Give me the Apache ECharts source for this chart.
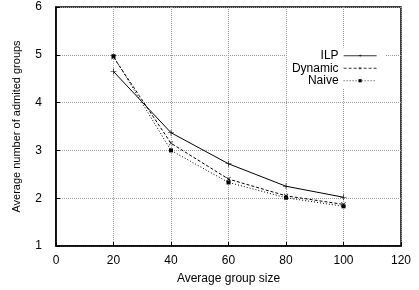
<!DOCTYPE html>
<html>
<head>
<meta charset="utf-8">
<script src="https://cdn.jsdelivr.net/npm/echarts@6/dist/echarts.min.js"></script>
<style>
  html, body { margin: 0; padding: 0; background: #fff; }
  #chart { width: 419px; height: 290px; }
</style>
</head>
<body>
<div id="chart"></div>
<script>
// group sizes on the x axis
const groupSizes = [20, 40, 60, 80, 100]
const ilp = [4.65, 3.37, 2.72, 2.25, 2.02]
const dynamic = [4.95, 3.15, 2.4, 2.05, 1.87]
const naive = [4.97, 3.0, 2.33, 2.01, 1.83]

const FONT = '"Liberation Sans", Arial, sans-serif'
const plusPath = 'path://M0,4.5H10V5.5H0Z M4.5,0H5.5V10H4.5Z'

function pairs(vals) {
  return groupSizes.map((x, i) => [x, vals[i]])
}

const chart = echarts.init(document.getElementById('chart'))

const gridLine = { show: true, lineStyle: { color: '#999', type: [1, 1], width: 1 } }
const tick = { show: true, inside: true, length: 4, lineStyle: { color: '#000', width: 1 } }

chart.setOption({
  animation: false,
  grid: {
    left: 56, right: 18, top: 7, bottom: 44,
    show: true, borderColor: '#000', borderWidth: 1.5,
  },
  legend: {
    orient: 'vertical',
    right: 34,
    top: 47.5,
    align: 'right',
    itemWidth: 33,
    itemHeight: 4,
    itemGap: 0,
    backgroundColor: '#fff',
    padding: [2, 8, 2, 4],
    lineStyle: { width: 0.8 },
    textStyle: { fontFamily: FONT, fontSize: 12, color: '#000', lineHeight: 12.5 },
    data: ['ILP', 'Dynamic', 'Naive'],
  },
  xAxis: {
    type: 'value',
    min: 0, max: 120, interval: 20,
    name: 'Average group size',
    nameLocation: 'middle',
    nameGap: 27,
    nameTextStyle: { fontFamily: FONT, fontSize: 12, color: '#000' },
    axisLine: { show: true, lineStyle: { color: '#000', width: 1.5 } },
    axisTick: tick,
    axisLabel: { fontFamily: FONT, fontSize: 12, color: '#000', margin: 9 },
    splitLine: gridLine,
  },
  yAxis: {
    type: 'value',
    min: 1, max: 6, interval: 1,
    name: 'Average number of admited groups',
    nameLocation: 'middle',
    nameGap: 34,
    nameTextStyle: { fontFamily: FONT, fontSize: 11, color: '#000' },
    axisLine: { show: true, lineStyle: { color: '#000', width: 1.5 } },
    axisTick: tick,
    axisLabel: { fontFamily: FONT, fontSize: 12, color: '#000', margin: 14 },
    splitLine: gridLine,
  },
  series: [
    {
      name: 'ILP', type: 'line', data: pairs(ilp),
      symbol: plusPath, symbolSize: 6,
      itemStyle: { color: '#000' },
      lineStyle: { color: '#000', width: 1, type: 'solid' },
    },
    {
      name: 'Dynamic', type: 'line', data: pairs(dynamic),
      symbol: plusPath, symbolSize: 6, symbolRotate: 45,
      itemStyle: { color: '#000' },
      lineStyle: { color: '#000', width: 1, type: [3, 2] },
    },
    {
      name: 'Naive', type: 'line', data: pairs(naive),
      symbol: 'rect', symbolSize: 4,
      itemStyle: { color: '#000' },
      lineStyle: { color: '#000', width: 1, type: [1, 2] },
    },
  ],
})
</script>
</body>
</html>
